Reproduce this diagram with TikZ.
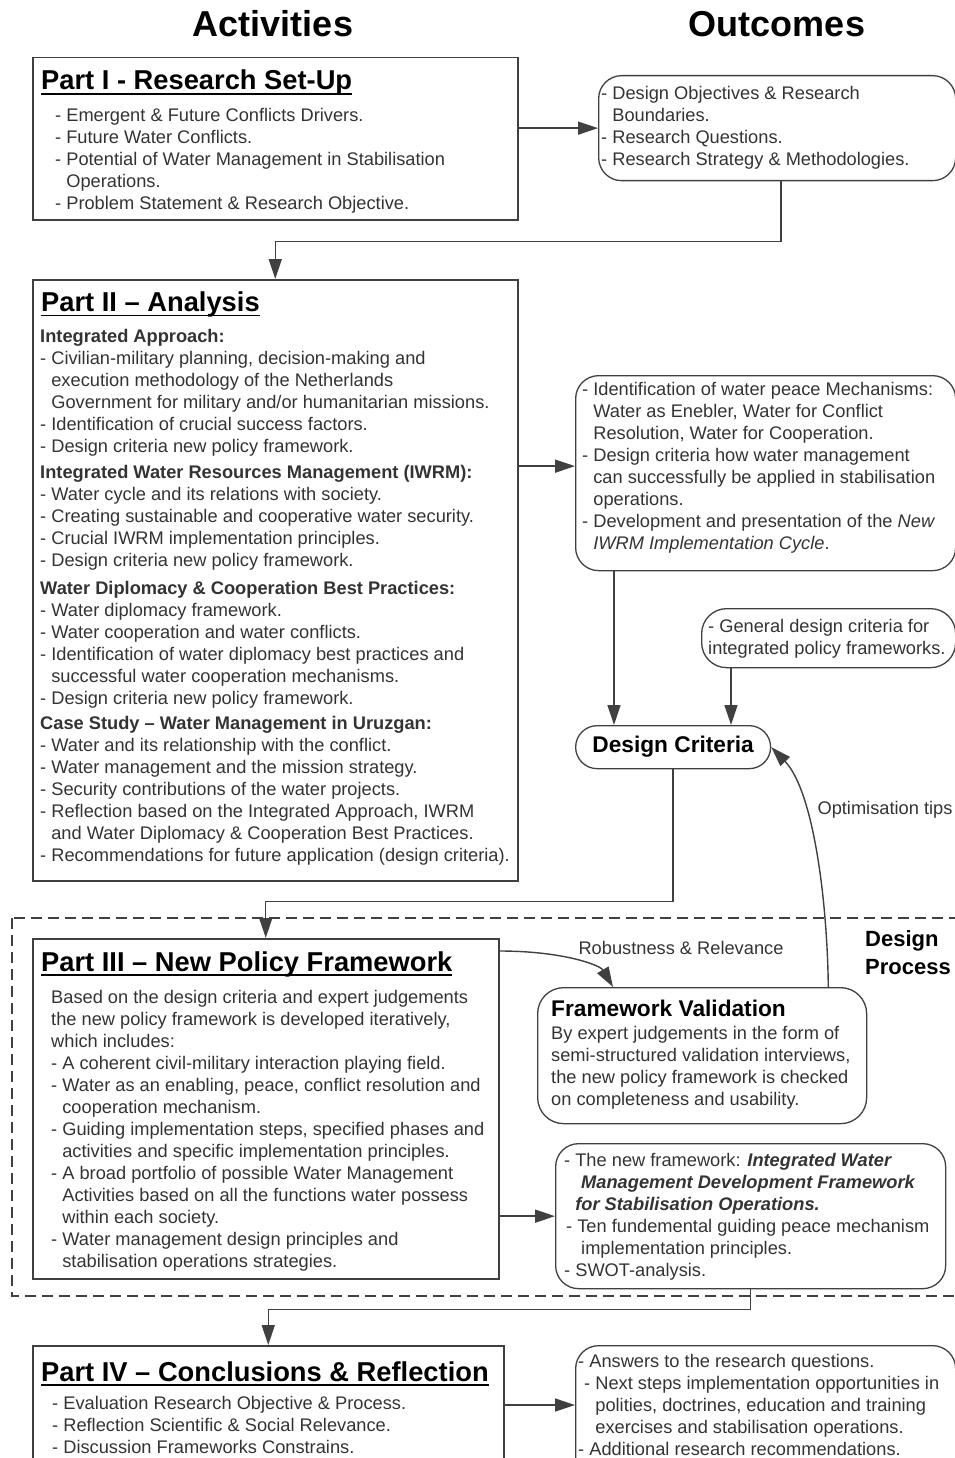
\documentclass[tikz,border=0pt]{standalone}
\usepackage{fontspec}
\setmainfont{Liberation Sans}
\usetikzlibrary{arrows.meta,positioning,calc}

\definecolor{linegray}{HTML}{404040}
\definecolor{bodygray}{HTML}{333333}

\newsavebox{\headbox}
\newcommand{\uhead}[1]{\sbox{\headbox}{#1}\rlap{\rule[-4.8pt]{\wd\headbox}{1.8pt}}\usebox{\headbox}}
\newcommand{\ind}{\hphantom{- }}
\newcommand{\fstrut}{\rule{0pt}{14pt}}

\tikzset{
  partbox/.style={draw=linegray, line width=1.5pt, anchor=north west, inner sep=0pt},
  outbox/.style={draw=linegray, line width=1.3pt, rounded corners=23pt, anchor=north west, inner sep=0pt},
  colhead/.style={font=\fontsize{36}{40}\selectfont\bfseries, anchor=base, inner sep=0pt},
  parthead/.style={font=\fontsize{27.3}{30}\selectfont\bfseries, anchor=base west, inner sep=0pt},
  subhead/.style={font=\fontsize{22.7}{28}\selectfont\bfseries, anchor=base west, inner sep=0pt},
  boxtext/.style={font=\fontsize{18.25}{22}\selectfont, text=bodygray, anchor=north west, align=left, inner sep=0pt},
  edgelabel/.style={font=\fontsize{18.25}{22}\selectfont, text=bodygray, inner sep=0pt},
  link/.style={draw=linegray, line width=1.4pt, -{Triangle[length=20pt,width=13pt]}},
}

\begin{document}
\begin{tikzpicture}[x=1pt, y=-1pt]
  \useasboundingbox (0,0) rectangle (955,1458);
  \clip (0,0) rectangle (955,1458);

  % column headings
  \node[colhead] (acthead) at (273,37) {Activities};
  \node[colhead] (outhead) at (777,37) {Outcomes};

  % design process frame
  \draw[draw=linegray, line width=1.4pt, dash pattern=on 11pt off 6pt] (12,918) rectangle (975,1296);
  \node[subhead, font=\fontsize{22}{28}\selectfont\bfseries, anchor=north west, align=left] (dproc) at (865,929) {\rule{0pt}{17pt}Design\\Process};

  % Part I
  \node[partbox, minimum width=485pt, minimum height=162pt] (p1) at (32,57) {};
  \node[parthead] (p1head) at (41,90) {\uhead{Part I - Research Set-Up}};
  \node[boxtext] (p1text) at (55,107) {\fstrut- Emergent \& Future Conflicts Drivers.\\
    - Future Water Conflicts.\\
    - Potential of Water Management in Stabilisation\\
    \ind Operations.\\
    - Problem Statement \& Research Objective.};

  \node[outbox, minimum width=357pt, minimum height=105pt] (o1) at (598,75) {};
  \node[boxtext] (o1text) at (601,85.5) {\fstrut- Design Objectives \& Research\\
    \ind Boundaries.\\
    - Research Questions.\\
    - Research Strategy \& Methodologies.};

  % Part II
  \node[partbox, minimum width=485pt, minimum height=601pt] (p2) at (32,279) {};
  \node[parthead] (p2head) at (41,311.5) {\uhead{Part II – Analysis}};
  \node[boxtext] (p2text) at (40,328.7) {\fstrut\textbf{Integrated Approach:}\\
    - Civilian-military planning, decision-making and\\
    \ind execution methodology of the Netherlands\\
    \ind Government for military and/or humanitarian missions.\\
    - Identification of crucial success factors.\\
    - Design criteria new policy framework.\\[4pt]
    \textbf{Integrated Water Resources Management (IWRM):}\\
    - Water cycle and its relations with society.\\
    - Creating sustainable and cooperative water security.\\
    - Crucial IWRM implementation principles.\\
    - Design criteria new policy framework.\\[6pt]
    \textbf{Water Diplomacy \& Cooperation Best Practices:}\\
    - Water diplomacy framework.\\
    - Water cooperation and water conflicts.\\
    - Identification of water diplomacy best practices and\\
    \ind successful water cooperation mechanisms.\\
    - Design criteria new policy framework.\\[3pt]
    \textbf{Case Study – Water Management in Uruzgan:}\\
    - Water and its relationship with the conflict.\\
    - Water management and the mission strategy.\\
    - Security contributions of the water projects.\\
    - Reflection based on the Integrated Approach, IWRM\\
    \ind and Water Diplomacy \& Cooperation Best Practices.\\
    - Recommendations for future application (design criteria).};

  \node[outbox, minimum width=380pt, minimum height=195pt] (o2) at (575,375) {};
  \node[boxtext] (o2text) at (582,381) {\fstrut- Identification of water peace Mechanisms:\\
    \ind Water as Enebler, Water for Conflict\\
    \ind Resolution, Water for Cooperation.\\
    - Design criteria how water management\\
    \ind can successfully be applied in stabilisation\\
    \ind operations.\\
    - Development and presentation of the \textit{New}\\
    \ind\textit{IWRM Implementation Cycle}.};

  \node[outbox, rounded corners=25pt, minimum width=254pt, minimum height=59pt] (gen) at (701,608) {};
  \node[boxtext] (gentext) at (708,618) {\fstrut- General design criteria for\\
    integrated policy frameworks.};

  \node[outbox, rounded corners=21.5pt, minimum width=195pt, minimum height=43pt,
        font=\fontsize{22.7}{26}\selectfont\bfseries] (dc) at (575,725) {Design Criteria};

  % Part III
  \node[partbox, minimum width=466pt, minimum height=340pt] (p3) at (32,938) {};
  \node[parthead] (p3head) at (41,971) {\uhead{Part III – New Policy Framework}};
  \node[boxtext] (p3text) at (51,989) {\fstrut Based on the design criteria and expert judgements\\
    the new policy framework is developed iteratively,\\
    which includes:\\
    - A coherent civil-military interaction playing field.\\
    - Water as an enabling, peace, conflict resolution and\\
    \ind cooperation mechanism.\\
    - Guiding implementation steps, specified phases and\\
    \ind activities and specific implementation principles.\\
    - A broad portfolio of possible Water Management\\
    \ind Activities based on all the functions water possess\\
    \ind within each society.\\
    - Water management design principles and\\
    \ind stabilisation operations strategies.};

  \node[outbox, rounded corners=26pt, minimum width=329pt, minimum height=136pt] (fv) at (537,987) {};
  \node[subhead] (fvhead) at (551,1016) {Framework Validation};
  \node[boxtext] (fvtext) at (551,1025.3) {\fstrut By expert judgements in the form of\\
    semi-structured validation interviews,\\
    the new policy framework is checked\\
    on completeness and usability.};

  \node[outbox, minimum width=390pt, minimum height=145pt] (o3) at (555,1143) {};
  \node[boxtext] (o3text) at (564,1152) {\fstrut- The new framework: \textbf{\textit{Integrated Water}}\\
    \hspace{17pt}\textbf{\textit{Management Development Framework}}\\
    \ind\textbf{\textit{for Stabilisation Operations.}}\\
    \hspace{2pt}- Ten fundemental guiding peace mechanism\\
    \hspace{17pt}implementation principles.\\
    - SWOT-analysis.};

  % Part IV
  \node[partbox, minimum width=471pt, minimum height=200pt] (p4) at (32,1345) {};
  \node[parthead] (p4head) at (41,1381) {\uhead{Part IV – Conclusions \& Reflection}};
  \node[boxtext] (p4text) at (52,1395) {\fstrut- Evaluation Research Objective \& Process.\\
    - Reflection Scientific \& Social Relevance.\\
    - Discussion Frameworks Constrains.};

  \node[outbox, minimum width=380pt, minimum height=200pt] (o4) at (575,1345) {};
  \node[boxtext] (o4text) at (578,1353) {\fstrut- Answers to the research questions.\\
    \hspace{6pt}- Next steps implementation opportunities in\\
    \hspace{6pt}\ind polities, doctrines, education and training\\
    \hspace{6pt}\ind exercises and stabilisation operations.\\
    - Additional research recommendations.};

  % labels on the feedback arrows
  \node[edgelabel] (robust) at (681,947.5) {Robustness \& Relevance};
  \node[edgelabel] (optim) at (885,810) {Optimisation tips};

  % connectors
  \draw[link] (p1.east |- o1.west) -- (o1.west);
  \draw[link] ($(o1.south)+(4,0)$) -- ++(0,60) -| (p2.north);
  \draw[link] ($(p2.east |- o2.west)+(0,-7)$) -- ($(o2.west)+(0,-7)$);
  \draw[link] ($(o2.south west)+(39,0)$) -- ($(dc.north west)+(39,0)$);
  \draw[link] ($(gen.south west)+(30,0)$) -- ($(dc.north west)+(156,0)$);
  \draw[link] (dc.south) -- ++(0,132) -| (p3.north);
  \draw[link] ($(p3.north east)+(0,13)$) .. controls +(63,0) and +(-13,-22) .. ($(fv.north west)+(76,0)$);
  \draw[link] ($(fv.north east)+(-39,0)$) .. controls +(-1,-87) and +(42,43.5) .. (dc.east);
  \draw[link] (p3.east |- o3.west) -- (o3.west);
  \draw[link] (o3.south) -- ++(0,20) -| (p4.north);
  \draw[link] ($(p4.north east)+(0,60)$) -- ($(o4.north west)+(0,60)$);
\end{tikzpicture}
\end{document}
